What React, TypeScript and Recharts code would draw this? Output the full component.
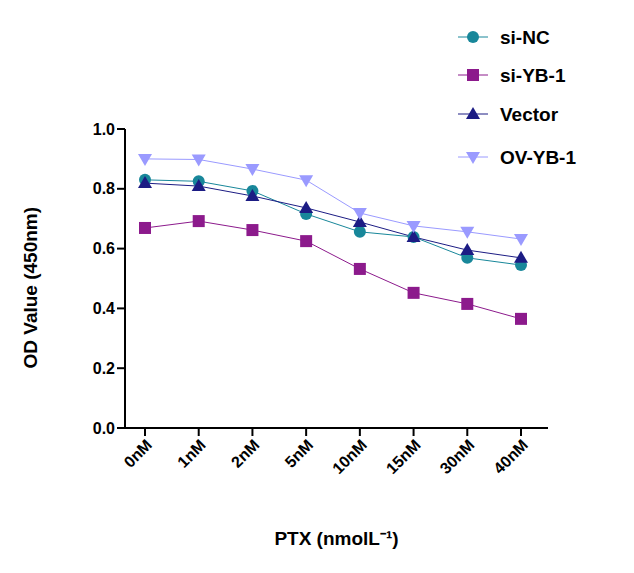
import { LineChart, Line, XAxis, YAxis } from 'recharts'

const categories = ['0nM', '1nM', '2nM', '5nM', '10nM', '15nM', '30nM', '40nM']
const siNC = [0.83, 0.825, 0.793, 0.716, 0.656, 0.639, 0.569, 0.545]
const siYB1 = [0.669, 0.692, 0.662, 0.625, 0.532, 0.452, 0.415, 0.365]
const vector = [0.819, 0.809, 0.776, 0.736, 0.689, 0.639, 0.595, 0.569]
const ovYB1 = [0.9, 0.898, 0.866, 0.829, 0.719, 0.676, 0.656, 0.632]
const yTicks = [0, 0.2, 0.4, 0.6, 0.8, 1.0]

const series = [
  { key: 'siNC', name: 'si-NC', color: '#18879a', shape: 'circle' },
  { key: 'siYB1', name: 'si-YB-1', color: '#8c1a8c', shape: 'square' },
  { key: 'vector', name: 'Vector', color: '#1c1c84', shape: 'up' },
  { key: 'ovYB1', name: 'OV-YB-1', color: '#9a9aff', shape: 'down' },
]

const data = categories.map((name, i) => ({
  name,
  siNC: siNC[i],
  siYB1: siYB1[i],
  vector: vector[i],
  ovYB1: ovYB1[i],
}))

function Marker({ cx, cy, shape, color }: any) {
  if (cx == null || cy == null) return null
  if (shape === 'circle') return <circle cx={cx} cy={cy} r={6} fill={color} />
  if (shape === 'square') return <rect x={cx - 6} y={cy - 6} width={12} height={12} fill={color} />
  if (shape === 'up')
    return <polygon points={`${cx},${cy - 7} ${cx - 7},${cy + 5} ${cx + 7},${cy + 5}`} fill={color} />
  return <polygon points={`${cx},${cy + 7} ${cx - 7},${cy - 5} ${cx + 7},${cy - 5}`} fill={color} />
}

function LegendBox() {
  const ys = [37, 75, 114, 157]
  return (
    <svg width={180} height={180} style={{ position: 'absolute', left: 458, top: 0, overflow: 'visible' }}>
      {series.map((s, i) => (
        <g key={s.key}>
          <line x1={0} x2={30} y1={ys[i]} y2={ys[i]} stroke={s.color} strokeWidth={1} />
          <Marker cx={15} cy={ys[i]} shape={s.shape} color={s.color} />
          <text x={42} y={ys[i] + 7} fontSize={19} fontWeight="bold" fill="#000">{s.name}</text>
        </g>
      ))}
    </svg>
  )
}

export default function App() {
  const tick = { fill: '#000', fontSize: 16, fontWeight: 'bold' as const }
  return (
    <div style={{ position: 'absolute', left: 0, top: 0, width: 634, height: 573, fontFamily: 'Arial, Liberation Sans, sans-serif' }}>
      <LineChart width={634} height={573} data={data} margin={{ top: 129, right: 86, left: 0, bottom: 0 }}>
        <XAxis
          dataKey="name"
          scale="point"
          padding={{ left: 20, right: 27 }}
          stroke="#000"
          strokeWidth={2}
          tickSize={8}
          interval={0}
          height={145}
          angle={-45}
          textAnchor="end"
          tick={tick}
          label={{ value: 'PTX (nmolL⁻¹)', position: 'insideBottom', offset: 28, fill: '#000', fontSize: 19, fontWeight: 'bold' }}
        />
        <YAxis
          domain={[0, 1]}
          ticks={yTicks}
          tickFormatter={(v: number) => v.toFixed(1)}
          stroke="#000"
          strokeWidth={2}
          tickSize={8}
          width={125}
          tick={tick}
          label={{ value: 'OD Value (450nm)', angle: -90, position: 'insideLeft', offset: 30, dy: 90, fill: '#000', fontSize: 19, fontWeight: 'bold' }}
        />
        {series.map((s) => (
          <Line
            key={s.key}
            dataKey={s.key}
            name={s.name}
            stroke={s.color}
            strokeWidth={1}
            isAnimationActive={false}
            dot={(p: any) => <Marker key={p.index} cx={p.cx} cy={p.cy} shape={s.shape} color={s.color} />}
            activeDot={false}
          />
        ))}
      </LineChart>
      <LegendBox />
    </div>
  )
}
